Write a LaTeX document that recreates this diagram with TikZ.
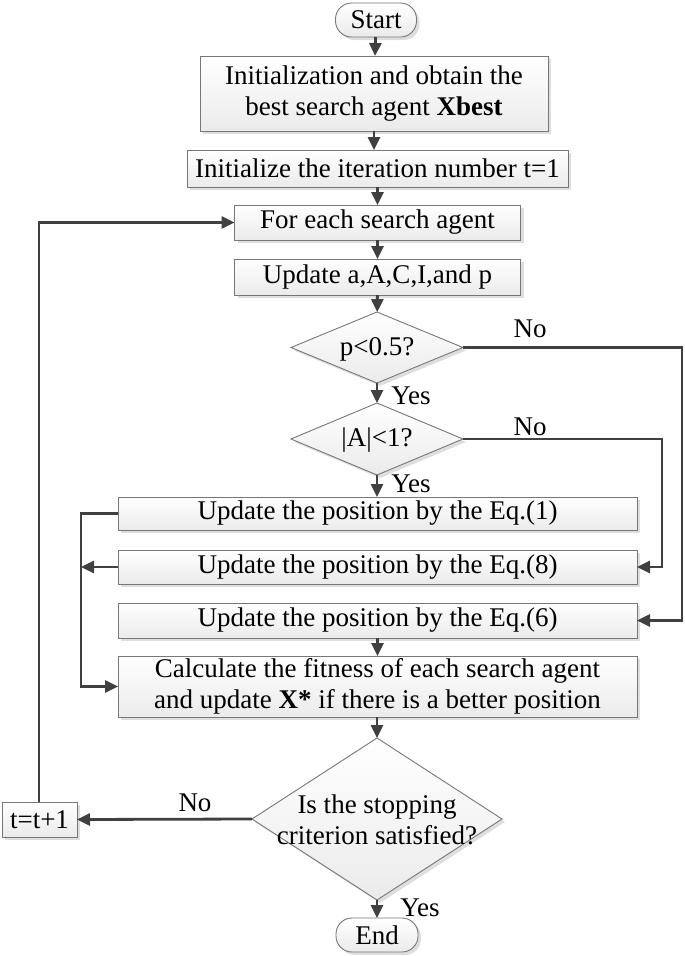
\documentclass[tikz,border=0pt]{standalone}
\usepackage{fontspec}
\setmainfont{Liberation Serif}
\usetikzlibrary{arrows.meta,shadows,shapes.geometric,calc}
\definecolor{linec}{HTML}{404040}
\definecolor{bordc}{HTML}{777777}
\begin{document}
\begin{tikzpicture}[x=1pt,y=-1pt,
  font=\fontsize{27}{31}\selectfont,
  every node/.style={inner sep=0pt, outer sep=0pt},
  boxst/.style={draw=bordc, line width=0.9pt, shade, top color=white, bottom color=gray!16,
    drop shadow={shadow xshift=3pt, shadow yshift=-3pt, fill=black, opacity=0.13},
    align=center},
  termst/.style={boxst, rounded corners=16pt},
  decst/.style={draw=bordc, line width=0.9pt, diamond, shade, top color=white, bottom color=gray!16,
    drop shadow={shadow xshift=3pt, shadow yshift=-3pt, fill=black, opacity=0.13}},
  lbl/.style={align=center},
  conn/.style={draw=linec, line width=2.8pt, -{Triangle[length=13pt,width=12pt]}},
  plain/.style={draw=linec, line width=2.8pt}
]
\useasboundingbox (0,0) rectangle (685,956);

% nodes
\node[termst, minimum width=81pt, minimum height=34pt] (start) at (376,20) {Start};
\node[boxst, minimum width=348pt, minimum height=75pt] (init) at (374,93.5)
  {Initialization and obtain the\\best search agent \textbf{Xbest}};
\node[boxst, minimum width=381pt, minimum height=37pt] (iter) at (377.5,168.5)
  {Initialize the iteration number t=1};
\node[boxst, minimum width=286pt, minimum height=35pt] (fe) at (377.5,222.5) {For each search agent};
\node[boxst, minimum width=286pt, minimum height=36pt] (upd) at (377.5,277) {Update a,A,C,I,and p};
\node[decst, minimum width=172pt, minimum height=71pt] (d1) at (377,347.5) {};
\node[lbl] (d1t) at (377,349) {p<0.5?};
\node[decst, minimum width=172pt, minimum height=72pt] (d2) at (377,439) {};
\node[lbl] (d2t) at (377,440) {|A|<1?};
\node[boxst, minimum width=519pt, minimum height=33pt] (eq1) at (377.5,513.5)
  {Update the position by the Eq.(1)};
\node[boxst, minimum width=519pt, minimum height=34pt] (eq8) at (377.5,567)
  {Update the position by the Eq.(8)};
\node[boxst, minimum width=519pt, minimum height=35pt] (eq6) at (377.5,620.5)
  {Update the position by the Eq.(6)};
\node[boxst, minimum width=519pt, minimum height=61pt] (calc) at (377.5,686.5)
  {Calculate the fitness of each search agent\\and update \textbf{X*} if there is a better position};
\node[decst, minimum width=250pt, minimum height=162pt] (d3) at (377,819) {};
\node[lbl] (d3t) at (377,820) {Is the stopping\\criterion satisfied?};
\node[termst, minimum width=82pt, minimum height=34pt] (end) at (377,935) {End};
\node[boxst, minimum width=75pt, minimum height=35pt] (tt) at (39.5,819.5) {t=t+1};

% labels
\node[lbl] (no1) at (530,329) {No};
\node[lbl] (no2) at (530,427) {No};
\node[lbl] (yes1) at (411,396) {Yes};
\node[lbl] (yes2) at (411,484) {Yes};
\node[lbl] (no3) at (195,803) {No};
\node[lbl] (yes3) at (420,908) {Yes};

\coordinate (r1) at (682,347.5);
\coordinate (r2) at (662,439);
\coordinate (l1) at (81,513.5);
\coordinate (l2) at (81,567);
\coordinate (lp) at (39,222.5);

% connectors
\draw[conn] (start) -- (init);
\draw[conn] (init) -- (init.south |- iter.north);
\draw[conn] (iter.south -| fe) -- (fe);
\draw[conn] (fe) -- (upd);
\draw[conn] (upd) -- (d1);
\draw[conn] (d1) -- (d2);
\draw[conn] (d2) -- (d2.south |- eq1.north);
\draw[conn] (eq6) -- (calc);
\draw[conn] (calc.south -| d3) -- (d3);
\draw[conn] (d3) -- (end.north -| d3);
\draw[conn] (d1.east) -- (r1) |- (eq6.east);
\draw[conn] (d2.east) -- (r2) |- (eq8.east);
\draw[conn] (eq1.west) -- (l1) |- (calc.west);
\draw[conn] (eq8.west) -- (l2);
\draw[conn] (d3.west) -- (tt.east);
\draw[conn] (tt.north -| lp) -- (lp) -- (fe.west);
\end{tikzpicture}
\end{document}
